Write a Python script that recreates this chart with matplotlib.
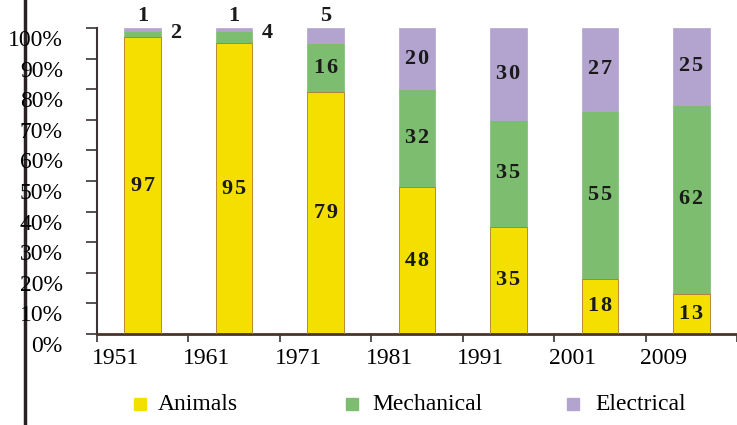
import matplotlib
matplotlib.use("Agg")
import matplotlib.pyplot as plt
from matplotlib.lines import Line2D
from matplotlib.transforms import ScaledTranslation
import numpy as np

years = ["1951", "1961", "1971", "1981", "1991", "2001", "2009"]
animals = [97, 95, 79, 48, 35, 18, 13]
mechanical = [2, 4, 16, 32, 35, 55, 62]
electrical = [1, 1, 5, 20, 30, 27, 25]
series_names = ["Animals", "Mechanical", "Electrical"]
colors = ["#f5df00", "#7dbd6f", "#b3a4cf"]
yticks = [0, 10, 20, 30, 40, 50, 60, 70, 80, 90, 100]

plt.rcParams["font.family"] = ["Liberation Serif", "DejaVu Serif"]

fig = plt.figure(figsize=(7.37, 4.25), dpi=100)
ax = fig.add_axes([97 / 737, 1 - 334 / 425, 640 / 737, 306 / 425])

x = np.arange(len(years))
w = 0.4
bottom = np.zeros(len(years))
for vals, col in zip([animals, mechanical, electrical], colors):
    ax.bar(x, vals, w, bottom=bottom, color=col, edgecolor=col, linewidth=0.5, zorder=2)
    bottom += np.array(vals)
# thin brownish line at top of yellow part
ax.bar(x, animals, w, color="none", edgecolor="#b07a3a", linewidth=0.6, zorder=3)


def spaced(v):
    # the labels in the picture have wide letter spacing
    return "\u200a".join(str(v))


# value labels
lab = dict(fontsize=16, fontweight="bold", ha="center", va="center", color="#1a1a1a")
for i in range(len(years)):
    a, m, e = animals[i], mechanical[i], electrical[i]
    ax.text(x[i], a / 2, spaced(a), **lab)
    if m >= 10:
        ax.text(x[i], a + m / 2, spaced(m), **lab)
    else:
        ax.text(x[i] + 0.36, 98.5, str(m), clip_on=False, **lab)
    if e >= 10:
        ax.text(x[i], a + m + e / 2, spaced(e), **lab)
    else:
        ax.text(x[i], 104, str(e), clip_on=False, **lab)

ax.set_xlim(-0.5, -0.5 + 640 / 92)
ax.set_ylim(0, 100)

ax.spines["top"].set_visible(False)
ax.spines["right"].set_visible(False)
ax.spines["left"].set_color("#3b3333")
ax.spines["left"].set_linewidth(1.5)
ax.spines["bottom"].set_color("#4a3428")
ax.spines["bottom"].set_linewidth(2)

ax.set_yticks(yticks)
ax.set_yticklabels([f"{t}%" for t in yticks], fontsize=17)
ax.tick_params(axis="y", direction="out", length=8, width=1.2, color="#3b3333", pad=26)
for t in ax.get_yticklabels():
    t.set_transform(t.get_transform() + ScaledTranslation(0.13, -0.1, fig.dpi_scale_trans))

ax.set_xticks(np.arange(-0.5, len(years), 1.0))
ax.set_xticklabels([])
ax.tick_params(axis="x", direction="out", length=6, width=1.2, color="#3b3333")
for i, yr in enumerate(years):
    ax.text(x[i] - 0.3, -8, yr, fontsize=17, ha="center", va="center",
            transform=ax.transData, clip_on=False)

# legend, placed by hand like the picture
leg_y = 1 - 404 / 425
leg_marker_x = [140, 352, 573]
leg_text_x = [158, 372, 595]
for mx, tx, name, col in zip(leg_marker_x, leg_text_x, series_names, colors):
    fig.add_artist(Line2D([mx / 737], [leg_y], marker="s", markersize=8,
                          markerfacecolor=col, markeredgecolor=col, linestyle="none"))
    fig.text(tx / 737, leg_y, name, fontsize=17, ha="left", va="center")

# page border line on the left
border = Line2D([25 / 737, 25 / 737], [0, 1], color="#2a2222", linewidth=2.5)
border.set_zorder(0)
fig.add_artist(border)

fig.savefig("out.png", dpi=100)
